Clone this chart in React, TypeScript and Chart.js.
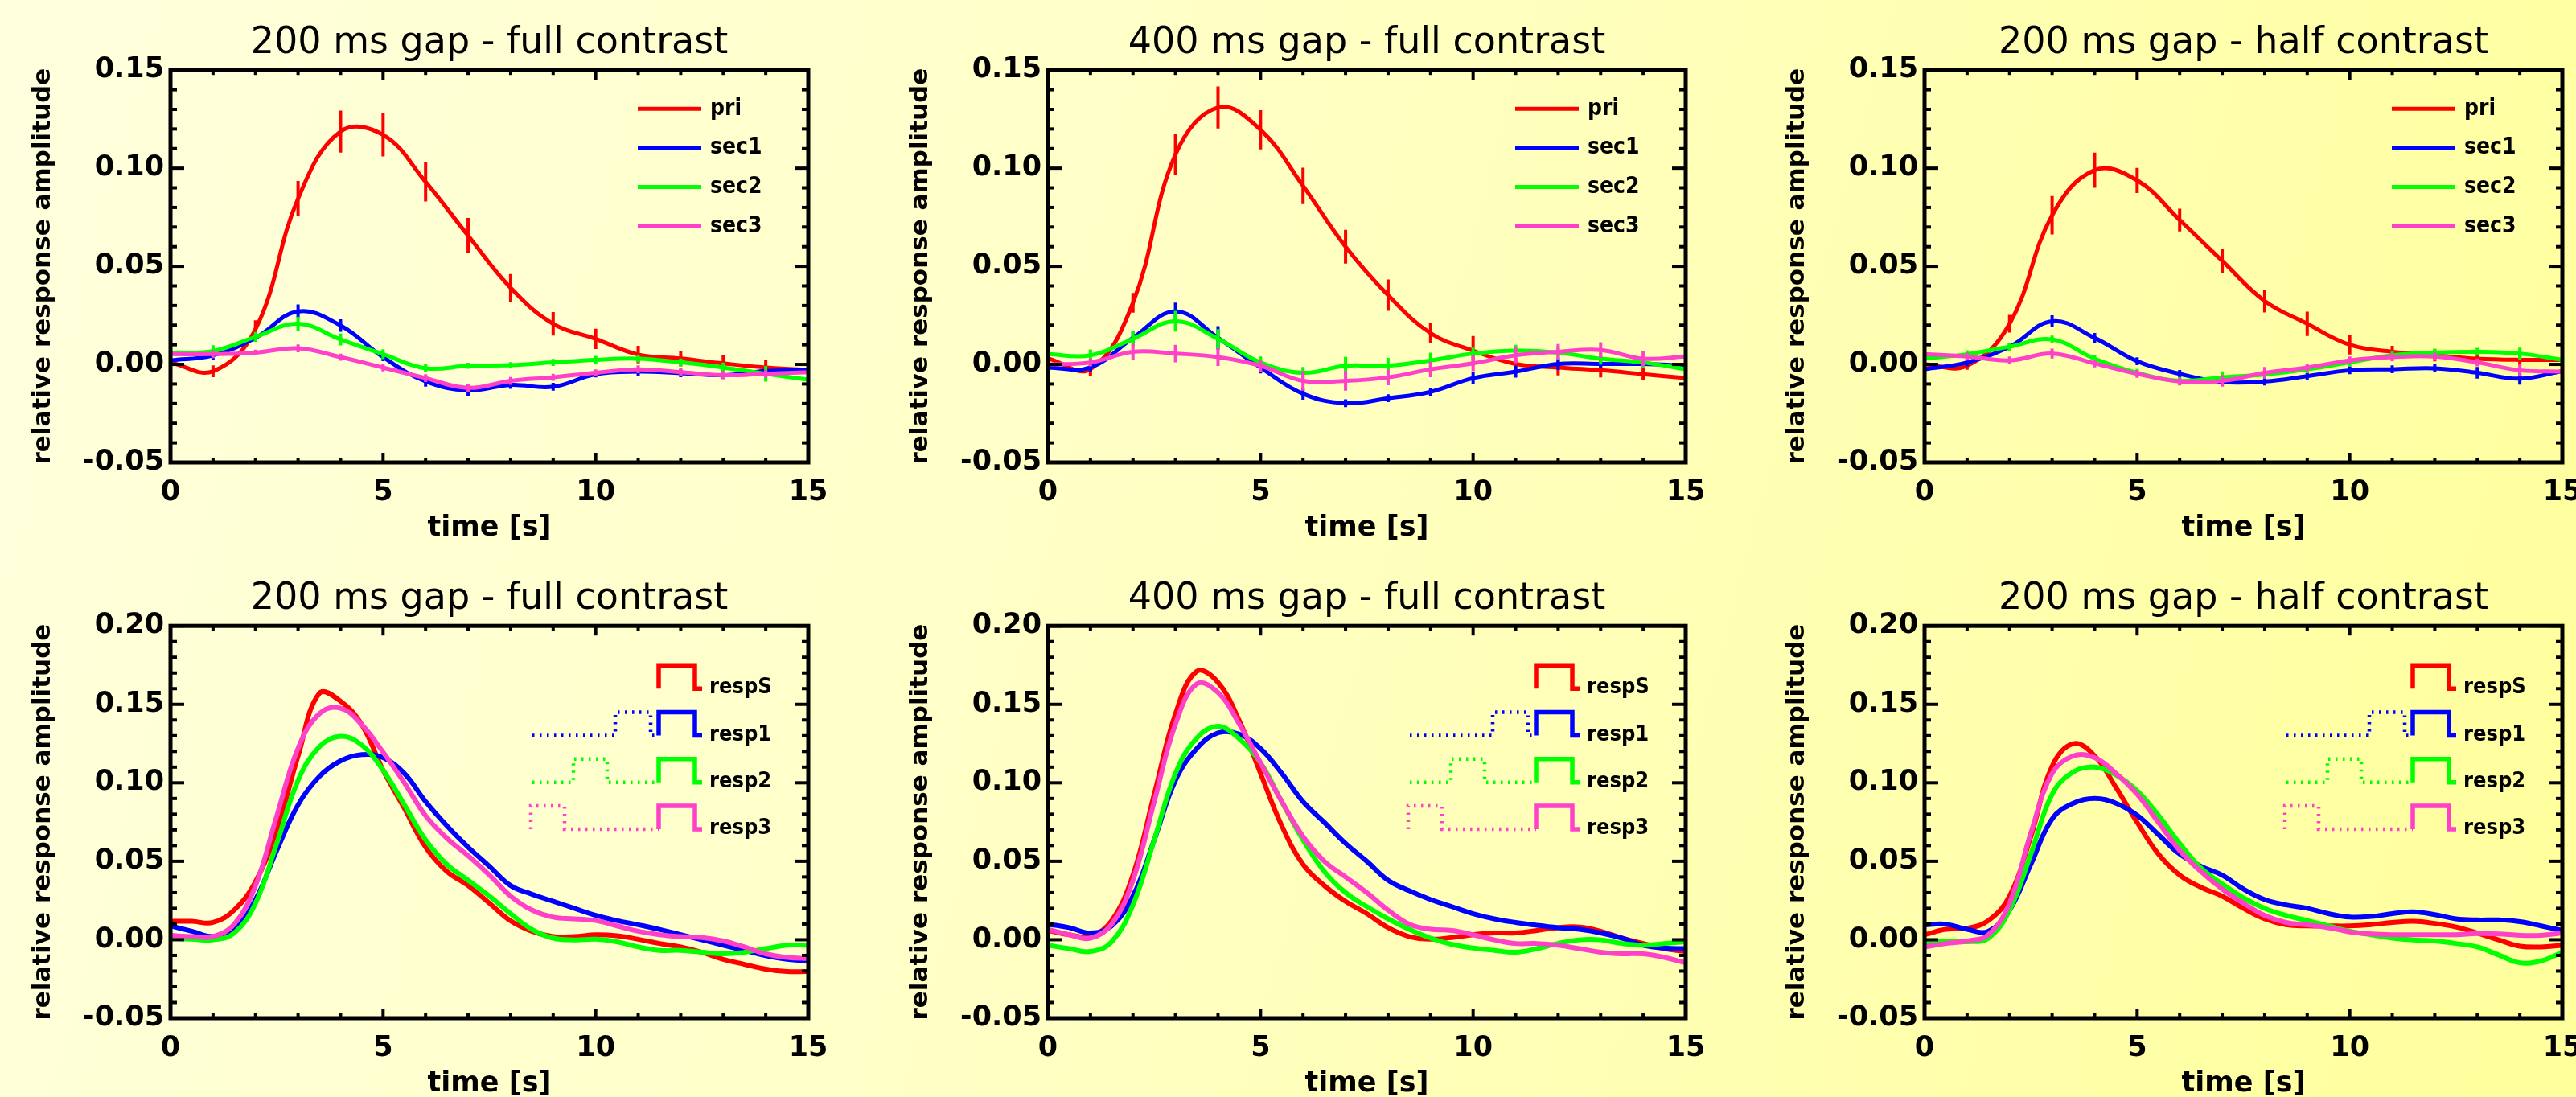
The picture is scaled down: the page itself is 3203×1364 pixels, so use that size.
import React, { useEffect, useRef } from "react";
import { Chart, registerables } from "chart.js";

Chart.register(...registerables);

// ---------- data ----------
const timesTop = [0, 1, 2, 3, 4, 5, 6, 7, 8, 9, 10, 11, 12, 13, 14, 15];
const timesBottom = [
  0, 0.5, 1, 1.5, 2, 2.5, 3, 3.5, 4, 4.5, 5, 5.5, 6, 6.5, 7, 7.5, 8, 8.5, 9, 9.5,
  10, 10.5, 11, 11.5, 12, 12.5, 13, 13.5, 14, 14.5, 15,
];

const topLabels = ["pri", "sec1", "sec2", "sec3"];
const bottomLabels = ["respS", "resp1", "resp2", "resp3"];
const panelTitles = [
  "200 ms gap - full contrast",
  "400 ms gap - full contrast",
  "200 ms gap - half contrast",
];
const seriesColors = ["#ff0000", "#0000ff", "#00ff00", "#ff40c8"];

// top row: mean responses (integer seconds) and error bars
const p1Pri = [0.001, -0.0035, 0.018, 0.0845, 0.1187, 0.117, 0.093, 0.0656, 0.039, 0.0207, 0.013, 0.005, 0.003, 0.0005, -0.0016, -0.0028];
const p1Sec1 = [0.002, 0.0046, 0.0135, 0.027, 0.0198, 0.0037, -0.0087, -0.0132, -0.0105, -0.0114, -0.005, -0.0037, -0.0045, -0.0055, -0.0034, -0.003];
const p1Sec2 = [0.006, 0.0068, 0.014, 0.0207, 0.0127, 0.0052, -0.002, -0.0007, -0.0004, 0.001, 0.0023, 0.0029, 0.001, -0.0016, -0.0048, -0.0078];
const p1Sec3 = [0.0052, 0.0052, 0.006, 0.0082, 0.0037, -0.0016, -0.007, -0.012, -0.0084, -0.0066, -0.0043, -0.0025, -0.004, -0.0055, -0.0048, -0.004];

const p2Pri = [0.003, -0.0024, 0.0314, 0.107, 0.131, 0.1196, 0.091, 0.06, 0.0353, 0.0159, 0.007, 0.0002, -0.0016, -0.003, -0.005, -0.007];
const p2Sec1 = [-0.0016, -0.0016, 0.0135, 0.027, 0.0135, -0.0016, -0.015, -0.0198, -0.0173, -0.014, -0.007, -0.0037, 0.0002, 0.0002, 0.0002, -0.0007];
const p2Sec2 = [0.0052, 0.0046, 0.013, 0.022, 0.013, 0.001, -0.0043, -0.0007, -0.0007, 0.002, 0.0055, 0.007, 0.006, 0.0029, 0.001, -0.0025];
const p2Sec3 = [0.0, 0.001, 0.0064, 0.0055, 0.0037, -0.0007, -0.0084, -0.0084, -0.0066, -0.0025, 0.0005, 0.0046, 0.0064, 0.0073, 0.0029, 0.004];

const p3Pri = [0.0, -0.0007, 0.0207, 0.076, 0.099, 0.0938, 0.0736, 0.0528, 0.0323, 0.0207, 0.01, 0.0064, 0.0046, 0.0029, 0.0023, 0.0023];
const p3Sec1 = [-0.0025, 0.001, 0.009, 0.022, 0.0135, 0.0016, -0.0048, -0.009, -0.0087, -0.006, -0.003, -0.0025, -0.002, -0.0043, -0.0073, -0.0034];
const p3Sec2 = [0.0029, 0.0052, 0.009, 0.0127, 0.0029, -0.0043, -0.0084, -0.0066, -0.0052, -0.0025, 0.001, 0.0046, 0.006, 0.0064, 0.0055, 0.0023];
const p3Sec3 = [0.0052, 0.004, 0.002, 0.0055, 0.0005, -0.0048, -0.0087, -0.0084, -0.0043, -0.0016, 0.002, 0.0037, 0.004, 0.001, -0.003, -0.0037];

const p1PriErr = [0.002, 0.003, 0.0045, 0.009, 0.0107, 0.011, 0.01, 0.009, 0.007, 0.006, 0.0052, 0.0045, 0.004, 0.004, 0.004, 0.004];
const p1Sec1Err = [0.002, 0.0025, 0.002, 0.0036, 0.0032, 0.002, 0.0027, 0.003, 0.002, 0.002, 0.0016, 0.002, 0.002, 0.002, 0.002, 0.002];
const p1Sec2Err = [0.002, 0.003, 0.0025, 0.0036, 0.003, 0.0025, 0.002, 0.0015, 0.0015, 0.0018, 0.002, 0.002, 0.002, 0.0025, 0.004, 0.002];
const p1Sec3Err = [0.0015, 0.002, 0.0015, 0.002, 0.0018, 0.002, 0.002, 0.002, 0.002, 0.0018, 0.0018, 0.002, 0.002, 0.002, 0.002, 0.002];

const p2PriErr = [0.002, 0.0036, 0.005, 0.0104, 0.0107, 0.01, 0.0093, 0.0086, 0.008, 0.005, 0.0075, 0.003, 0.004, 0.0036, 0.003, 0.003];
const p2Sec1Err = [0.002, 0.002, 0.003, 0.0045, 0.006, 0.003, 0.003, 0.002, 0.002, 0.002, 0.003, 0.003, 0.003, 0.002, 0.002, 0.002];
const p2Sec2Err = [0.002, 0.003, 0.004, 0.0053, 0.005, 0.003, 0.003, 0.0045, 0.004, 0.004, 0.003, 0.003, 0.003, 0.003, 0.003, 0.002];
const p2Sec3Err = [0.002, 0.002, 0.004, 0.0045, 0.0045, 0.003, 0.005, 0.005, 0.004, 0.004, 0.004, 0.004, 0.004, 0.004, 0.004, 0.003];

const p3PriErr = [0.002, 0.002, 0.0045, 0.0098, 0.009, 0.0064, 0.0058, 0.0062, 0.0058, 0.0062, 0.005, 0.003, 0.003, 0.003, 0.003, 0.003];
const p3Sec1Err = [0.002, 0.002, 0.002, 0.003, 0.0025, 0.002, 0.002, 0.002, 0.002, 0.002, 0.002, 0.002, 0.002, 0.003, 0.003, 0.002];
const p3Sec2Err = [0.002, 0.002, 0.002, 0.002, 0.002, 0.002, 0.002, 0.003, 0.002, 0.002, 0.002, 0.002, 0.002, 0.002, 0.003, 0.002];
const p3Sec3Err = [0.002, 0.002, 0.002, 0.0025, 0.002, 0.002, 0.002, 0.003, 0.003, 0.002, 0.002, 0.002, 0.002, 0.002, 0.003, 0.002];

// bottom row: model responses (half-second samples)
const p4RespS = [0.0117, 0.0117, 0.011, 0.019, 0.037, 0.07, 0.117, 0.157, 0.152, 0.137, 0.108, 0.0837, 0.059, 0.0435, 0.0345, 0.0233, 0.012, 0.0054, 0.002, 0.002, 0.0032, 0.0025, 0.0003, -0.0024, -0.0046, -0.008, -0.0125, -0.0157, -0.0187, -0.0203, -0.0203];
const p4Resp1 = [0.0088, 0.0054, 0.002, 0.0066, 0.0256, 0.057, 0.086, 0.104, 0.114, 0.118, 0.116, 0.106, 0.088, 0.0726, 0.059, 0.0468, 0.0345, 0.029, 0.0245, 0.02, 0.0155, 0.0122, 0.0095, 0.0066, 0.0032, -0.0001, -0.0035, -0.0068, -0.0102, -0.0125, -0.0135];
const p4Resp2 = [0.001, 0.0003, -0.0001, 0.0043, 0.0233, 0.0614, 0.1016, 0.1229, 0.1296, 0.124, 0.108, 0.086, 0.0636, 0.048, 0.0379, 0.0278, 0.0166, 0.0066, 0.001, -0.0001, 0.0003, -0.0013, -0.0046, -0.0068, -0.0068, -0.008, -0.009, -0.008, -0.0057, -0.0035, -0.0035];
const p4Resp3 = [0.0028, 0.002, 0.002, 0.0099, 0.0345, 0.079, 0.122, 0.144, 0.1475, 0.137, 0.1195, 0.1, 0.079, 0.0647, 0.0535, 0.0412, 0.0278, 0.0189, 0.0144, 0.0133, 0.0122, 0.0088, 0.0054, 0.0032, 0.002, 0.0014, -0.0008, -0.0046, -0.009, -0.0113, -0.012];

const p5RespS = [0.0059, 0.0032, 0.002, 0.0122, 0.0412, 0.0927, 0.144, 0.171, 0.164, 0.1396, 0.106, 0.0726, 0.048, 0.0345, 0.0244, 0.0166, 0.0077, 0.002, 0.0003, 0.0014, 0.0032, 0.0043, 0.0043, 0.0059, 0.0077, 0.0081, 0.0054, 0.001, -0.0024, -0.0057, -0.0075];
const p5Resp1 = [0.0099, 0.0077, 0.0043, 0.0088, 0.0278, 0.0636, 0.1016, 0.1218, 0.1318, 0.131, 0.1218, 0.106, 0.088, 0.0748, 0.0614, 0.05, 0.0379, 0.0312, 0.0256, 0.0211, 0.0166, 0.0133, 0.011, 0.0092, 0.0077, 0.0066, 0.0043, 0.001, -0.0035, -0.0053, -0.0057];
const p5Resp2 = [-0.0035, -0.0057, -0.0075, -0.0013, 0.0222, 0.0636, 0.106, 0.1285, 0.136, 0.128, 0.1128, 0.088, 0.0636, 0.0435, 0.03, 0.0211, 0.0133, 0.0066, 0.001, -0.003, -0.0053, -0.0068, -0.008, -0.0057, -0.0024, -0.0001, -0.0001, -0.0024, -0.0035, -0.0024, -0.0013];
const p5Resp3 = [0.0066, 0.0032, 0.001, 0.0099, 0.0379, 0.088, 0.1374, 0.163, 0.1575, 0.1374, 0.1128, 0.088, 0.0658, 0.05, 0.04, 0.03, 0.0189, 0.0099, 0.0066, 0.0059, 0.0032, -0.0001, -0.0024, -0.0024, -0.0035, -0.0057, -0.008, -0.009, -0.009, -0.0113, -0.0147];

const p6RespS = [0.0032, 0.0066, 0.0073, 0.0122, 0.0278, 0.0658, 0.1106, 0.125, 0.1172, 0.0971, 0.0748, 0.0546, 0.0412, 0.0334, 0.0278, 0.02, 0.0133, 0.0096, 0.0088, 0.0088, 0.0088, 0.0096, 0.011, 0.0117, 0.0104, 0.0081, 0.0043, -0.0001, -0.0041, -0.0046, -0.0035];
const p6Resp1 = [0.0095, 0.0099, 0.0066, 0.0054, 0.0189, 0.048, 0.077, 0.087, 0.09, 0.087, 0.0793, 0.067, 0.0546, 0.0468, 0.0412, 0.0323, 0.0256, 0.0222, 0.02, 0.0166, 0.0144, 0.0148, 0.0166, 0.0178, 0.016, 0.0133, 0.0126, 0.0126, 0.0115, 0.0088, 0.0059];
const p6Resp2 = [-0.0024, -0.0008, -0.0013, 0.001, 0.0189, 0.0546, 0.0927, 0.107, 0.11, 0.105, 0.095, 0.0793, 0.0614, 0.0457, 0.0356, 0.0267, 0.02, 0.0155, 0.0122, 0.0088, 0.0054, 0.0032, 0.001, -0.0001, -0.0008, -0.0024, -0.0046, -0.0097, -0.0147, -0.0135, -0.008];
const p6Resp3 = [-0.0046, -0.0024, -0.0008, 0.0032, 0.0233, 0.068, 0.106, 0.1172, 0.116, 0.106, 0.0927, 0.0748, 0.0569, 0.0435, 0.0323, 0.0233, 0.0155, 0.011, 0.0095, 0.0077, 0.005, 0.0037, 0.0032, 0.0032, 0.0032, 0.0032, 0.0039, 0.0037, 0.0028, 0.0028, 0.0043];

const topYRange = [-0.05, 0.15];
const bottomYRange = [-0.05, 0.2];

// ---------- styling constants ----------
const FONT = "'DejaVu Sans', 'Liberation Sans', sans-serif";
const LEG_FONT = "'DejaVu Sans Condensed', 'DejaVu Sans', sans-serif";
const CANVAS_W = 1068;
const CANVAS_H = 682;

// ---------- plugins ----------
const errorBarPlugin = {
  id: "errBars",
  afterDatasetDraw(chart: any, args: any) {
    const ds = chart.data.datasets[args.index];
    const errs: number[] | undefined = ds.errors;
    if (!errs) return;
    const { ctx, chartArea: ca } = chart;
    const xs = chart.scales.x;
    const ys = chart.scales.y;
    ctx.save();
    ctx.beginPath();
    ctx.rect(ca.left, ca.top, ca.right - ca.left, ca.bottom - ca.top);
    ctx.clip();
    ctx.strokeStyle = ds.borderColor;
    ctx.lineWidth = 4;
    ctx.lineCap = "butt";
    ds.data.forEach((p: any, i: number) => {
      const px = xs.getPixelForValue(p.x);
      ctx.beginPath();
      ctx.moveTo(px, ys.getPixelForValue(p.y - errs[i]));
      ctx.lineTo(px, ys.getPixelForValue(p.y + errs[i]));
      ctx.stroke();
    });
    ctx.restore();
  },
};

const framePlugin = {
  id: "idlFrame",
  afterDatasetsDraw(chart: any) {
    const { ctx, chartArea: ca } = chart;
    const xs = chart.scales.x;
    const ys = chart.scales.y;
    ctx.save();
    ctx.strokeStyle = "#000";
    ctx.lineCap = "butt";
    ctx.lineWidth = 4;
    const seg = (x1: number, y1: number, x2: number, y2: number) => {
      ctx.beginPath();
      ctx.moveTo(x1, y1);
      ctx.lineTo(x2, y2);
      ctx.stroke();
    };
    for (let t = Math.round(xs.min); t <= Math.round(xs.max); t++) {
      const px = xs.getPixelForValue(t);
      const len = t % 5 === 0 ? 12 : 6;
      seg(px, ca.bottom, px, ca.bottom - len);
      seg(px, ca.top, px, ca.top + len);
    }
    const k0 = Math.round(ys.min * 100);
    const k1 = Math.round(ys.max * 100);
    for (let k = k0; k <= k1; k++) {
      const py = ys.getPixelForValue(k / 100);
      const len = k % 5 === 0 ? 17 : 8;
      seg(ca.left, py, ca.left + len, py);
      seg(ca.right, py, ca.right - len, py);
    }
    ctx.lineWidth = 5;
    ctx.strokeRect(ca.left, ca.top, ca.right - ca.left, ca.bottom - ca.top);
    ctx.restore();
  },
};

const legendPlugin = {
  id: "idlLegend",
  afterDraw(chart: any, _args: any, opts: any) {
    const { ctx, chartArea: ca } = chart;
    const datasets = chart.data.datasets;
    ctx.save();
    ctx.fillStyle = "#000";
    ctx.textAlign = "left";
    ctx.textBaseline = "alphabetic";
    if (opts.kind === "line") {
      const size = 28;
      ctx.font = `bold ${size}px ${LEG_FONT}`;
      datasets.forEach((ds: any, i: number) => {
        const y = ca.top + 48 + i * 48.7;
        ctx.strokeStyle = ds.borderColor;
        ctx.lineWidth = 5;
        ctx.beginPath();
        ctx.moveTo(ca.left + 581, y);
        ctx.lineTo(ca.left + 660, y);
        ctx.stroke();
        ctx.fillText(ds.label, ca.left + 671, y + 0.27 * size);
      });
    } else {
      const size = 27;
      ctx.font = `bold ${size}px ${LEG_FONT}`;
      const pulses: Record<number, [number, number]> = { 1: [553, 597], 2: [501, 543], 3: [448, 490] };
      datasets.forEach((ds: any, i: number) => {
        const bottom = ca.top + 78 + i * 58.3;
        const top = bottom - 29;
        const L = (v: number) => ca.left + v;
        ctx.strokeStyle = ds.borderColor;
        ctx.lineJoin = "miter";
        if (pulses[i]) {
          const [a, b] = pulses[i];
          ctx.lineWidth = 4.5;
          ctx.setLineDash([2.5, 6.5]);
          ctx.beginPath();
          if (a > 450) {
            ctx.moveTo(L(450), bottom);
            ctx.lineTo(L(a), bottom);
          } else {
            ctx.moveTo(L(a), bottom);
          }
          ctx.lineTo(L(a), top);
          ctx.lineTo(L(b), top);
          ctx.lineTo(L(b), bottom);
          ctx.lineTo(L(607), bottom);
          ctx.stroke();
          ctx.setLineDash([]);
        }
        ctx.lineWidth = 5.5;
        ctx.beginPath();
        ctx.moveTo(L(607), bottom);
        ctx.lineTo(L(607), top);
        ctx.lineTo(L(652), top);
        ctx.lineTo(L(652), bottom);
        ctx.lineTo(L(661), bottom);
        ctx.stroke();
        ctx.fillText(ds.label, L(670), bottom + 6);
      });
    }
    ctx.restore();
  },
};

// ---------- panel ----------
type PanelCfg = {
  left: number;
  top: number;
  title: string;
  labels: string[];
  times: number[];
  series: number[][];
  errors?: number[][];
  yRange: number[];
  legend: "line" | "pulse";
  lineWidth: number;
};

function Panel({ cfg }: { cfg: PanelCfg }) {
  const ref = useRef<HTMLCanvasElement | null>(null);
  useEffect(() => {
    const canvas = ref.current;
    if (!canvas) return;
    const n = cfg.series.length;
    const chart = new Chart(canvas, {
      type: "line",
      data: {
        datasets: cfg.series.map((vals, i) => ({
          label: cfg.labels[i],
          data: vals.map((v, j) => ({ x: cfg.times[j], y: v })),
          borderColor: seriesColors[i],
          backgroundColor: seriesColors[i],
          borderWidth: cfg.lineWidth,
          pointRadius: 0,
          tension: 0.4,
          fill: false,
          order: n - 1 - i,
          errors: cfg.errors ? cfg.errors[i] : undefined,
        })) as any,
      },
      options: {
        responsive: false,
        animation: false,
        devicePixelRatio: 1,
        events: [],
        layout: { padding: { left: 0, right: 63, top: 0, bottom: 0 } },
        plugins: {
          legend: { display: false },
          tooltip: { enabled: false },
          title: {
            display: true,
            text: cfg.title,
            fullSize: false,
            color: "#000",
            font: { family: FONT, size: 46, weight: "normal" },
            padding: { top: 26, bottom: 6 },
          },
          idlLegend: { kind: cfg.legend },
        } as any,
        scales: {
          x: {
            type: "linear",
            min: 0,
            max: 15,
            afterFit: (s: any) => {
              s.height = 107;
            },
            grid: { display: false, drawTicks: false, tickLength: 0 },
            border: { display: false },
            ticks: {
              stepSize: 5,
              color: "#000",
              font: { family: FONT, size: 35, weight: "bold" },
              padding: 17,
              maxRotation: 0,
              autoSkip: false,
            },
            title: {
              display: true,
              text: "time [s]",
              color: "#000",
              font: { family: FONT, size: 35, weight: "bold" },
              padding: { top: 0, bottom: 4 },
            },
          },
          y: {
            type: "linear",
            min: cfg.yRange[0],
            max: cfg.yRange[1],
            afterFit: (s: any) => {
              s.width = 212;
            },
            grid: { display: false, drawTicks: false, tickLength: 0 },
            border: { display: false },
            ticks: {
              stepSize: 0.05,
              includeBounds: false,
              color: "#000",
              font: { family: FONT, size: 35, weight: "bold" },
              padding: 8,
              autoSkip: false,
              callback: (v: any) => Number(v).toFixed(2),
            },
            title: {
              display: true,
              text: "relative response amplitude",
              color: "#000",
              font: { family: FONT, size: 31, weight: "bold" },
              padding: { top: 35, bottom: 0 },
            },
          },
        } as any,
      },
      plugins: [errorBarPlugin, framePlugin, legendPlugin],
    });
    return () => chart.destroy();
  }, []);
  return (
    <canvas
      ref={ref}
      width={CANVAS_W}
      height={CANVAS_H}
      style={{ position: "absolute", left: cfg.left, top: cfg.top, width: CANVAS_W, height: CANVAS_H }}
    />
  );
}

const panels: PanelCfg[] = [
  { left: 0, top: 0, title: panelTitles[0], labels: topLabels, times: timesTop, series: [p1Pri, p1Sec1, p1Sec2, p1Sec3], errors: [p1PriErr, p1Sec1Err, p1Sec2Err, p1Sec3Err], yRange: topYRange, legend: "line", lineWidth: 5 },
  { left: 1091, top: 0, title: panelTitles[1], labels: topLabels, times: timesTop, series: [p2Pri, p2Sec1, p2Sec2, p2Sec3], errors: [p2PriErr, p2Sec1Err, p2Sec2Err, p2Sec3Err], yRange: topYRange, legend: "line", lineWidth: 5 },
  { left: 2181, top: 0, title: panelTitles[2], labels: topLabels, times: timesTop, series: [p3Pri, p3Sec1, p3Sec2, p3Sec3], errors: [p3PriErr, p3Sec1Err, p3Sec2Err, p3Sec3Err], yRange: topYRange, legend: "line", lineWidth: 5 },
  { left: 0, top: 691, title: panelTitles[0], labels: bottomLabels, times: timesBottom, series: [p4RespS, p4Resp1, p4Resp2, p4Resp3], yRange: bottomYRange, legend: "pulse", lineWidth: 6 },
  { left: 1091, top: 691, title: panelTitles[1], labels: bottomLabels, times: timesBottom, series: [p5RespS, p5Resp1, p5Resp2, p5Resp3], yRange: bottomYRange, legend: "pulse", lineWidth: 6 },
  { left: 2181, top: 691, title: panelTitles[2], labels: bottomLabels, times: timesBottom, series: [p6RespS, p6Resp1, p6Resp2, p6Resp3], yRange: bottomYRange, legend: "pulse", lineWidth: 6 },
];

export default function App() {
  return (
    <div
      style={{
        position: "fixed",
        left: 0,
        top: 0,
        width: 3203,
        height: 1364,
        overflow: "hidden",
        background: "linear-gradient(105deg, #ffffde 0%, #ffffc4 45%, #ffff9c 100%)",
      }}
    >
      {panels.map((p, i) => (
        <Panel key={i} cfg={p} />
      ))}
    </div>
  );
}
